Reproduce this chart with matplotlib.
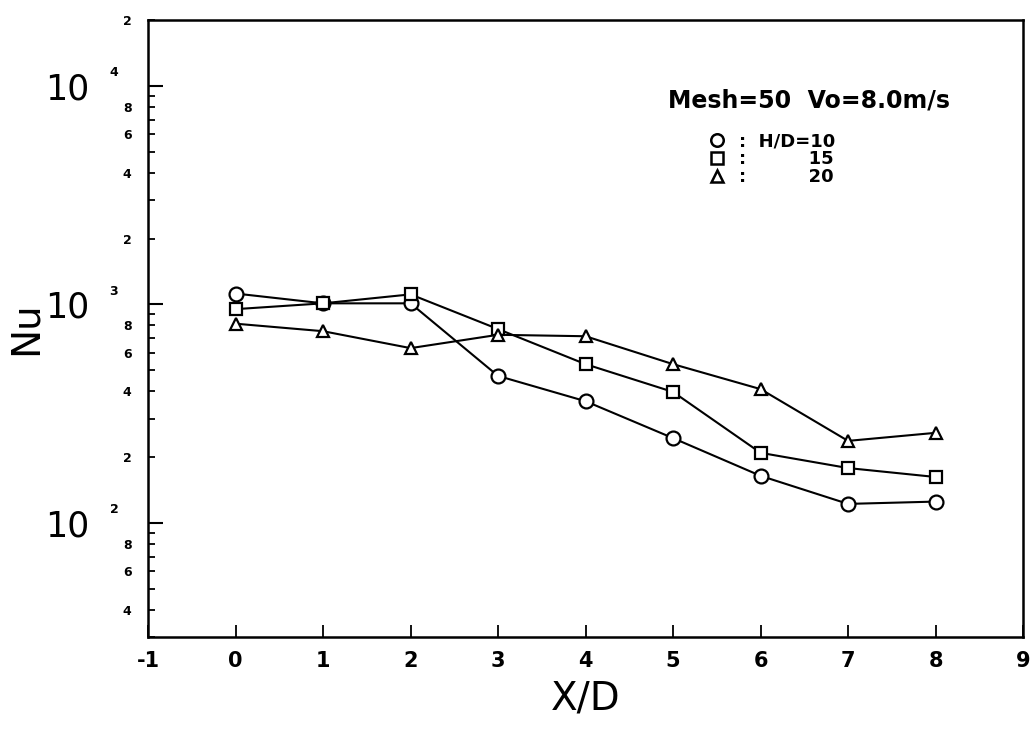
import math

import matplotlib

matplotlib.use("Agg")
import matplotlib.pyplot as plt
import matplotlib.transforms as mtransforms
from matplotlib.lines import Line2D
from matplotlib.ticker import FixedLocator, FuncFormatter, LogLocator

plt.rcParams["font.family"] = ["DejaVu Sans"]

x_over_d = [0, 1, 2, 3, 4, 5, 6, 7, 8]
nu_hd10 = [1120, 1010, 1010, 470, 360, 244, 164, 122, 125]
nu_hd15 = [950, 1010, 1110, 770, 532, 397, 209, 178, 162]
nu_hd20 = [815, 753, 630, 725, 714, 532, 409, 237, 258]

x_ticks = [-1, 0, 1, 2, 3, 4, 5, 6, 7, 8, 9]
minor_labeled = [2, 4, 6, 8]

fig = plt.figure(figsize=(10.36, 7.36), dpi=100)
ax = fig.add_axes([0.1429, 0.1345, 0.8446, 0.8383])

style = dict(color="black", lw=1.5, mfc="white", mec="black", mew=1.6)
ax.plot(x_over_d, nu_hd10, marker="o", ms=10, **style)
ax.plot(x_over_d, nu_hd15, marker="s", ms=9, **style)
ax.plot(x_over_d, nu_hd20, marker="^", ms=9, **style)

ax.set_yscale("log")
ax.set_xlim(-1, 9)
ax.set_ylim(30, 2e4)

ax.xaxis.set_major_locator(FixedLocator(x_ticks))
ax.set_xticklabels([str(t) for t in x_ticks], fontsize=15, fontweight="bold")

# major labels: big "10", small exponent drawn separately
ax.yaxis.set_major_locator(LogLocator(base=10, numticks=10))
ax.yaxis.set_major_formatter(FuncFormatter(lambda v, p: "10"))
ax.yaxis.set_minor_locator(LogLocator(base=10, subs=range(2, 10), numticks=20))


def minor_fmt(v, pos):
    m = round(v / 10 ** math.floor(math.log10(v) + 1e-9))
    return str(m) if m in minor_labeled else ""


ax.yaxis.set_minor_formatter(FuncFormatter(minor_fmt))

ax.tick_params(axis="y", which="major", direction="in", length=11, width=1.5,
               labelsize=25, pad=42)
ax.tick_params(axis="y", which="minor", direction="in", length=5, width=1.3,
               labelsize=9, pad=12)
for lab in ax.yaxis.get_minorticklabels():
    lab.set_fontweight("bold")
ax.tick_params(axis="x", which="major", direction="in", length=9, width=1.3, pad=10)
ax.tick_params(axis="x", which="minor", bottom=False)

ylo, yhi = ax.get_ylim()
blend = mtransforms.blended_transform_factory(ax.transAxes, ax.transData)
for v in ax.yaxis.get_majorticklocs():
    if ylo <= v <= yhi:
        ax.text(-0.044, v * 1.07, str(round(math.log10(v))), transform=blend,
                fontsize=9, fontweight="bold", ha="left", va="bottom")

for s in ax.spines.values():
    s.set_linewidth(1.8)

ax.set_xlabel("X/D", fontsize=28, labelpad=6)
ax.set_ylabel("Nu", fontsize=28)
ax.yaxis.set_label_coords(-0.118, 0.5)

ax.text(0.594, 0.870, "Mesh=50  Vo=8.0m/s", transform=ax.transAxes,
        fontsize=17, fontweight="bold", va="center", ha="left")

fsp = "\u2007" * 4
handles = [
    Line2D([], [], ls="none", marker="o", ms=9, mfc="white", mec="black", mew=1.8),
    Line2D([], [], ls="none", marker="s", ms=8, mfc="white", mec="black", mew=1.8),
    Line2D([], [], ls="none", marker="^", ms=8, mfc="white", mec="black", mew=1.8),
]
labels = [":  H/D=10", ":  " + fsp + "15", ":  " + fsp + "20"]
ax.legend(handles, labels, loc="upper left", bbox_to_anchor=(0.642, 0.818),
          frameon=False, handlelength=0.8, handletextpad=0.8, borderpad=0,
          borderaxespad=0, labelspacing=0.0,
          prop=dict(family="DejaVu Sans", weight="bold", size=13))

fig.savefig("out.png", dpi=100)
